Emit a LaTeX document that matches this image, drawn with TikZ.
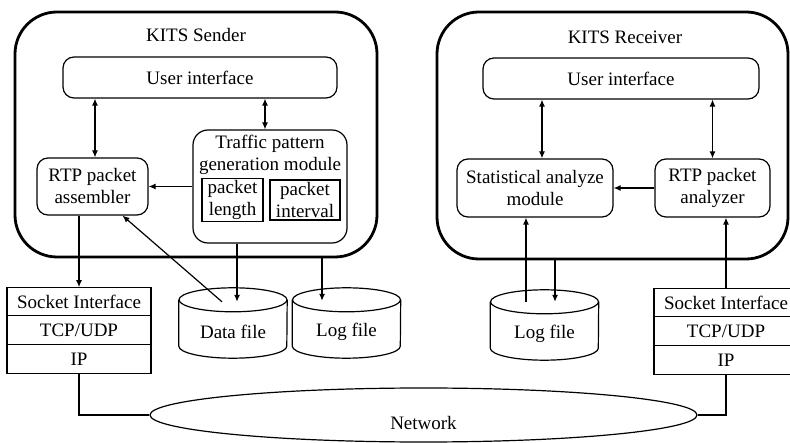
\documentclass[tikz,border=0pt]{standalone}
\usepackage{fontspec}
\setmainfont{Liberation Serif}
\newfontfamily\kitsfont{Liberation Serif}
\usetikzlibrary{shapes.geometric}
\usetikzlibrary{arrows.meta}
\usetikzlibrary{positioning}

\tikzset{
  sysbox/.style={draw,line width=2.8pt,rounded corners=42pt},
  modbox/.style={draw,line width=1.2pt,rounded corners=11pt,align=center},
  parbox/.style={draw,line width=1.2pt,align=center,inner sep=2pt},
  layerbox/.style={draw,line width=1.2pt,outer sep=0pt,minimum width=144pt,minimum height=28.7pt,inner sep=0pt},
  filedb/.style={minimum width=108pt,minimum height=70pt,inner sep=0pt},
  arr/.style={line width=1.2pt,-{Latex[length=7pt,width=6pt]}},
  darr/.style={line width=1.2pt,{Latex[length=7pt,width=6pt]}-{Latex[length=7pt,width=6pt]}},
  link/.style={line width=1.2pt}
}
% drum outline round a filedb node
\newcommand{\dbshape}[1]{%
  \draw[link] ([yshift=-12pt]#1.north west) -- ([yshift=12pt]#1.south west)
    arc[start angle=180,end angle=360,x radius=54pt,y radius=12pt]
    -- ([yshift=-12pt]#1.north east);
  \draw[link] ([yshift=-12pt]#1.north) ellipse[x radius=54pt,y radius=12pt];
}

\begin{document}
\begin{tikzpicture}[x=1pt,y=-1pt,font=\kitsfont\fontsize{19}{22}\selectfont]
  \useasboundingbox (0,0) rectangle (790,443);

  % sender
  \node[sysbox,minimum width=362pt,minimum height=245pt] (sender) at (196,134.5) {};
  \node (sendtitle) at (196,35) {KITS Sender};
  \node[modbox,minimum width=274pt,minimum height=41pt] (ui1) at (200,77.5) {User interface};
  \node[modbox,minimum width=111pt,minimum height=57pt] (asm) at (92.5,186.5) {RTP packet\\assembler};
  \node[modbox,rounded corners=15pt,minimum width=154pt,minimum height=113pt,
        label={[anchor=north,align=center,yshift=-2pt]north:Traffic pattern\\generation module}] (gen) at (270,186.5) {};
  \node[parbox,minimum width=61pt,minimum height=40pt] (plen) at (232.5,200) {packet\\length};
  \node[parbox,minimum width=70pt,minimum height=40pt] (pint) at (305,200) {packet\\interval};

  \node[layerbox] (s1sock) at (79,301.5) {Socket Interface};
  \node[layerbox,below=0pt of s1sock] (s1tcp) {TCP/UDP};
  \node[layerbox,below=0pt of s1tcp] (s1ip) {IP};

  \node[filedb,label={[yshift=-9pt]center:Data file}] (data) at (233,323) {};
  \node[filedb,label={[yshift=-9pt]center:Log file}] (log1) at (346.5,323) {};
  \dbshape{data}
  \dbshape{log1}

  % receiver
  \node[sysbox,minimum width=351pt,minimum height=247pt] (receiver) at (612.5,135.5) {};
  \node (rectitle) at (625,37) {KITS Receiver};
  \node[modbox,minimum width=276pt,minimum height=41pt] (ui2) at (621,78.5) {User interface};
  \node[modbox,minimum width=156pt,minimum height=58pt] (stat) at (535,188) {Statistical analyze\\module};
  \node[modbox,minimum width=115pt,minimum height=58pt] (ana) at (712.5,188) {RTP packet\\analyzer};

  \node[filedb,label={[yshift=-9pt]center:Log file}] (log2) at (544.5,325) {};
  \dbshape{log2}

  \node[layerbox] (s2sock) at (726,302.5) {Socket Interface};
  \node[layerbox,below=0pt of s2sock] (s2tcp) {TCP/UDP};
  \node[layerbox,below=0pt of s2tcp] (s2ip) {IP};

  \node[draw,ellipse,line width=1.2pt,minimum width=547pt,minimum height=54pt,
        label={[yshift=-8pt]center:Network}] (net) at (423.5,415) {};

  % sender links
  \draw[darr] ([xshift=2.5pt]asm.north |- ui1.south) -- ([xshift=2.5pt]asm.north);
  \draw[darr] ([xshift=-5pt]gen.north |- ui1.south) -- ([xshift=-5pt]gen.north);
  \draw[arr] (gen.west) -- (asm.east);
  \draw[arr] (s1sock.north |- asm.south) -- (s1sock.north);
  \coordinate (dtop) at ([yshift=-14pt]data.north);
  \draw[arr] ([xshift=-11pt]dtop) -- ([xshift=30pt]asm.south);
  \draw[arr] ([xshift=4pt]dtop |- gen.south) -- ([xshift=4pt]dtop);
  \coordinate (l1top) at ([yshift=-13pt]log1.north);
  \draw[arr] ([xshift=-24.5pt]l1top |- sender.south) -- ([xshift=-24.5pt]l1top);

  % receiver links
  \draw[darr] ([xshift=7pt]stat.north |- ui2.south) -- ([xshift=7pt]stat.north);
  \draw[darr] (ana.north |- ui2.south) -- (ana.north);
  \draw[arr] (ana.west) -- (stat.east);
  \coordinate (l2top) at ([yshift=-12pt]log2.north);
  \draw[arr] ([xshift=-18.5pt]l2top) -- ([xshift=-9pt]stat.south);
  \draw[arr] ([xshift=10.5pt]l2top |- receiver.south) -- ([xshift=10.5pt]l2top);
  \draw[arr] (s2sock.north) -- (s2sock.north |- ana.south);

  % network
  \draw[link] (s1ip.south) |- (net.west);
  \draw[link] (s2ip.south) |- (net.east);
\end{tikzpicture}
\end{document}
